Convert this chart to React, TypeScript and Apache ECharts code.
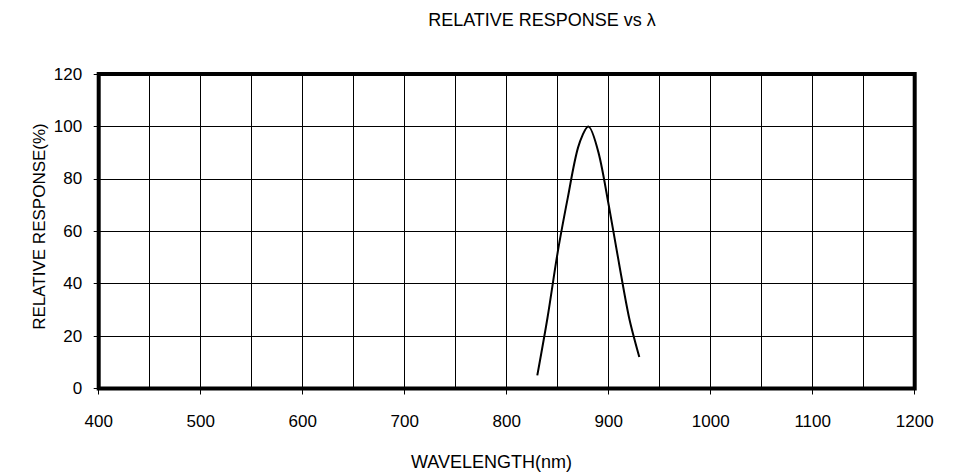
import React, { useEffect, useRef } from "react";
import * as echarts from "echarts";

const wavelengths = [830, 840, 850, 860, 870, 880, 890, 900, 910, 920, 930];
const responses = [5, 27, 52, 73, 92, 100, 90, 70, 48, 27, 12];
const titleText = "RELATIVE RESPONSE vs λ";
const xName = "WAVELENGTH(nm)";
const yName = "RELATIVE RESPONSE(%)";

const FONT = "'Liberation Sans', Arial, sans-serif";

export default function App() {
  const ref = useRef<HTMLDivElement>(null);
  useEffect(() => {
    document.body.style.margin = "0";
    if (!ref.current) return;
    const chart = echarts.init(ref.current, undefined, { renderer: "svg" });
    chart.setOption({
      animation: false,
      backgroundColor: "#fff",
      grid: {
        left: 98.7,
        top: 74,
        width: 816,
        height: 314.5,
        show: true,
        borderColor: "#000",
        borderWidth: 4,
        backgroundColor: "transparent",
        z: 5,
      },
      graphic: [
        {
          type: "text",
          x: 542,
          y: 19.5,
          style: { text: titleText, font: `18px ${FONT}`, fill: "#000", align: "center", verticalAlign: "middle" },
        },
        {
          type: "text",
          x: 491.5,
          y: 461.5,
          style: { text: xName, font: `18px ${FONT}`, fill: "#000", align: "center", verticalAlign: "middle" },
        },
        {
          type: "text",
          x: 39.5,
          y: 226.5,
          rotation: Math.PI / 2,
          style: { text: yName, font: `17px ${FONT}`, fill: "#000", align: "center", verticalAlign: "middle" },
        },
      ],
      xAxis: {
        type: "value",
        min: 400,
        max: 1200,
        interval: 100,
        axisLine: { show: false },
        axisTick: { show: true, length: 6, lineStyle: { color: "#000", width: 1 } },
        axisLabel: { color: "#000", fontSize: 17, fontFamily: FONT, margin: 24, formatter: (v: number) => String(v) },
        splitLine: { show: true, lineStyle: { color: "#000", width: 1 } },
        minorTick: { show: false, splitNumber: 2 },
        minorSplitLine: { show: true, lineStyle: { color: "#000", width: 1 } },
      },
      yAxis: {
        type: "value",
        min: 0,
        max: 120,
        interval: 20,
        axisLine: { show: false },
        axisTick: { show: true, length: 5, lineStyle: { color: "#000", width: 1 } },
        axisLabel: { color: "#000", fontSize: 17, fontFamily: FONT, margin: 16.5, formatter: (v: number) => String(v) },
        splitLine: { show: true, lineStyle: { color: "#000", width: 1 } },
      },
      series: [
        {
          type: "line",
          data: wavelengths.map((w, i) => [w, responses[i]]),
          smooth: 0.3,
          symbol: "none",
          lineStyle: { color: "#000", width: 2 },
          z: 3,
        },
      ],
    });
    return () => chart.dispose();
  }, []);
  return <div ref={ref} style={{ width: 959, height: 472 }} />;
}
